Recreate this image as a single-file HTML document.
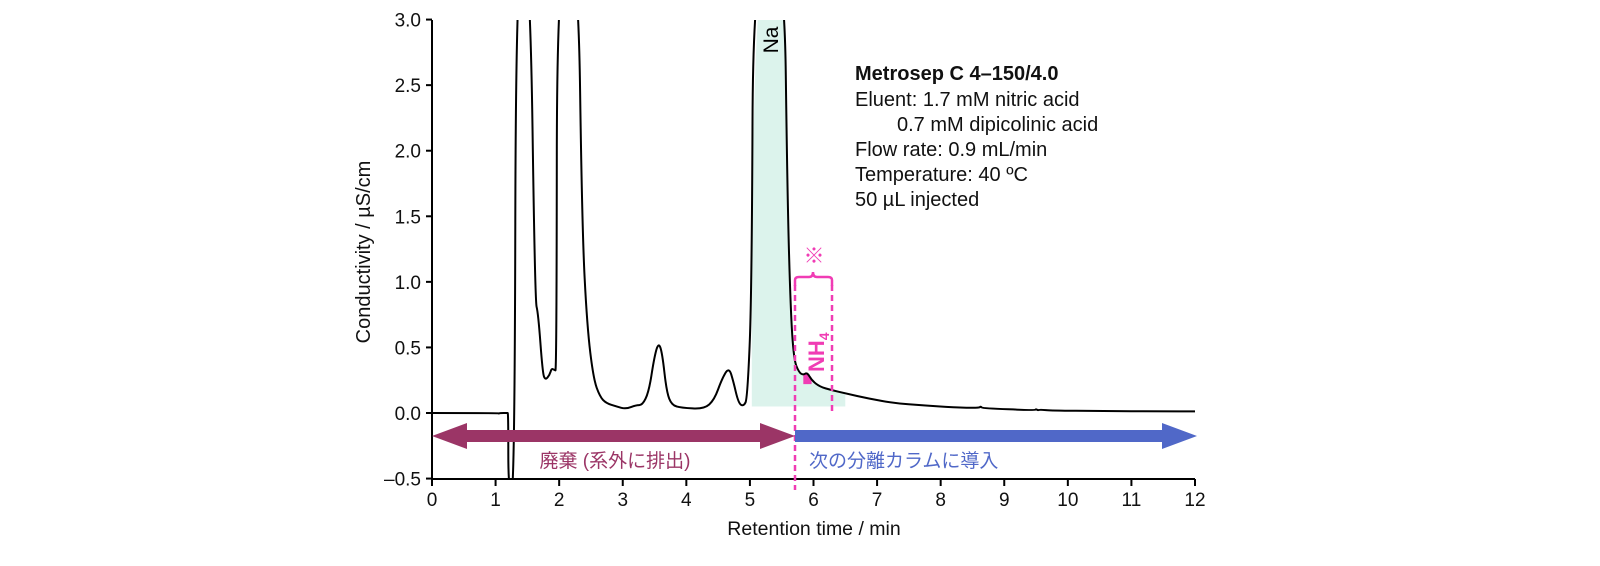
<!DOCTYPE html>
<html><head><meta charset="utf-8"><style>
body{margin:0;background:#fff;}
svg{display:block;font-family:"Liberation Sans","Noto Sans CJK JP",sans-serif;}
</style></head><body>
<svg id="c" width="1600" height="566" viewBox="0 0 1600 566" xmlns="http://www.w3.org/2000/svg">
<defs><clipPath id="pc"><rect x="432" y="20" width="763" height="459"/></clipPath></defs>
<g id="fills" clip-path="url(#pc)"></g>
<g id="axes"></g>
<g id="trace" clip-path="url(#pc)"></g>
<g id="ann"></g>
</svg>
<script>
const times=[0,1.03,1.05,1.07,1.18,1.2,1.2,1.3,1.32,1.54,1.62,1.67,1.74,1.78,1.85,1.88,1.92,1.96,1.965,2.3,2.36,2.44,2.54,2.64,2.74,2.9,3.05,3.21,3.31,3.41,3.49,3.56,3.62,3.69,3.77,3.92,4.28,4.44,4.56,4.67,4.74,4.82,4.9,4.96,5.03,5.05,5.54,5.59,5.64,5.69,5.77,5.84,5.9,5.97,6.1,6.28,6.5,6.87,7.27,7.72,8.21,8.6,8.63,8.66,9.48,9.5,9.53,9.56,9.75,10.5,11.49,12];
const values=[0,0,-0.005,0,0,0,-0.6,-0.6,3.5,3.5,0.86,0.76,0.31,0.25,0.29,0.34,0.33,0.32,3.5,3.5,1.41,0.66,0.26,0.125,0.075,0.05,0.03,0.06,0.06,0.16,0.41,0.54,0.46,0.16,0.06,0.04,0.03,0.1,0.26,0.35,0.24,0.075,0.05,0.11,0.91,3.5,3.5,1.66,0.79,0.41,0.31,0.29,0.31,0.25,0.2,0.175,0.15,0.11,0.075,0.058,0.043,0.038,0.05,0.036,0.02,0.03,0.02,0.026,0.018,0.015,0.0125,0.012];
const xTicks=[0,1,2,3,4,5,6,7,8,9,10,11,12];
const yTicks=[-0.5,0.0,0.5,1.0,1.5,2.0,2.5,3.0];
const naRange=[5.0,6.8];
const nh4Range=[5.82,6.05];
const X=t=>432+t*(1195-432)/12;
const Y=v=>413-v*(459/3.5);
const NS="http://www.w3.org/2000/svg";
function mk(tag,attrs,parent,text){const e=document.createElementNS(NS,tag);for(const k in attrs)e.setAttribute(k,attrs[k]);if(text!==undefined)e.textContent=text;parent.appendChild(e);return e;}
const axes=document.getElementById('axes'),trace=document.getElementById('trace'),fills=document.getElementById('fills');
function smooth(pts){let d='M'+pts[0][0].toFixed(1)+','+pts[0][1].toFixed(1);
 for(let i=1;i<pts.length-1;i++){const mx=(pts[i][0]+pts[i+1][0])/2,my=(pts[i][1]+pts[i+1][1])/2;d+=' Q'+pts[i][0].toFixed(1)+','+pts[i][1].toFixed(1)+' '+mx.toFixed(1)+','+my.toFixed(1);}
 const l=pts[pts.length-1];d+=' L'+l[0].toFixed(1)+','+l[1].toFixed(1);return d;}
function areaPath(r,base){let pts=[];for(let i=0;i<times.length;i++){if(times[i]>=r[0]&&times[i]<=r[1])pts.push([X(times[i]),Y(Math.max(values[i],base))]);}
 let d=smooth(pts);d+=' L'+pts[pts.length-1][0]+','+Y(base)+' L'+pts[0][0]+','+Y(base)+'Z';return d;}
const na=mk('path',{d:areaPath(naRange,0.05),fill:'#dcf3ec'},fills);


const nh=mk('path',{d:areaPath(nh4Range,0.22),fill:'#f03cb4'},fills);


const tpts=times.map((t,i)=>[X(t),Y(values[i])]);
const tr=mk('path',{d:smooth(tpts),fill:'none',stroke:'#000','stroke-width':2,'stroke-linejoin':'round'},trace);


const ya=mk('line',{x1:432,y1:20,x2:432,y2:479,stroke:'#000','stroke-width':2},axes);


const xa=mk('line',{x1:432,y1:479,x2:1195,y2:479,stroke:'#000','stroke-width':2},axes);


yTicks.forEach(v=>{mk('line',{x1:426,y1:Y(v),x2:432,y2:Y(v),stroke:'#000','stroke-width':2},axes);
 const l=mk('text',{x:421,y:Y(v)+7,'text-anchor':'end','font-size':19,fill:'#111'},axes,(v<0?'\u2013'+Math.abs(v).toFixed(1):v.toFixed(1)));
 
 });
xTicks.forEach(t=>{mk('line',{x1:X(t),y1:479,x2:X(t),y2:486,stroke:'#000','stroke-width':2},axes);
 const l=mk('text',{x:X(t),y:506,'text-anchor':'middle','font-size':19,fill:'#111'},axes,String(t));
 
 });
const yt=mk('text',{x:0,y:0,transform:'translate(370,252) rotate(-90)','text-anchor':'middle','font-size':20,fill:'#111'},axes,'Conductivity / µS/cm');


const xt=mk('text',{x:814,y:535,'text-anchor':'middle','font-size':19.5,fill:'#111'},axes,'Retention time / min');


</script>
<script>
const A=document.getElementById('ann');
A.innerHTML=`
<text transform="translate(778,40) rotate(-90)" text-anchor="middle" font-size="21" fill="#000">Na</text>
<g font-size="20" fill="#111">
<text x="855" y="80" font-weight="bold">Metrosep C 4–150/4.0</text>
<text x="855" y="106">Eluent: 1.7 mM nitric acid</text>
<text x="897" y="131">0.7 mM dipicolinic acid</text>
<text x="855" y="156">Flow rate: 0.9 mL/min</text>
<text x="855" y="181">Temperature: 40 ºC</text>
<text x="855" y="206">50 µL injected</text>
</g>
<line x1="795" y1="285" x2="795" y2="490" stroke="#f03cb4" stroke-width="2.5" stroke-dasharray="6,4"/>
<line x1="832" y1="285" x2="832" y2="412" stroke="#f03cb4" stroke-width="2.5" stroke-dasharray="6,4"/>
<path d="M795,286 L795,280 Q795,277 799,277 L809,277 Q813,277 813,272 Q813,277 817,277 L828,277 Q832,277 832,280 L832,286" fill="none" stroke="#f03cb4" stroke-width="2.5"/>
<text x="814" y="263" text-anchor="middle" font-size="21" fill="#f03cb4">※</text>
<text transform="translate(824,372) rotate(-90)" font-size="22" font-weight="bold" fill="#f03cb4">NH<tspan font-size="14" dy="5">4</tspan></text>
<path d="M432,436 L467,423 L467,430 L760,430 L760,423 L795,436 L760,449 L760,442 L467,442 L467,449 Z" fill="#9b3566"/>
<path d="M795,430 L1162,430 L1162,423 L1197,436 L1162,449 L1162,442 L795,442 Z" fill="#5068c8"/>
<text x="615" y="467" text-anchor="middle" font-size="19" fill="#9b3566">廃棄 (系外に排出)</text>
<text x="809" y="467" font-size="19" fill="#5068c8">次の分離カラムに導入</text>`;
</script>
</body></html>
